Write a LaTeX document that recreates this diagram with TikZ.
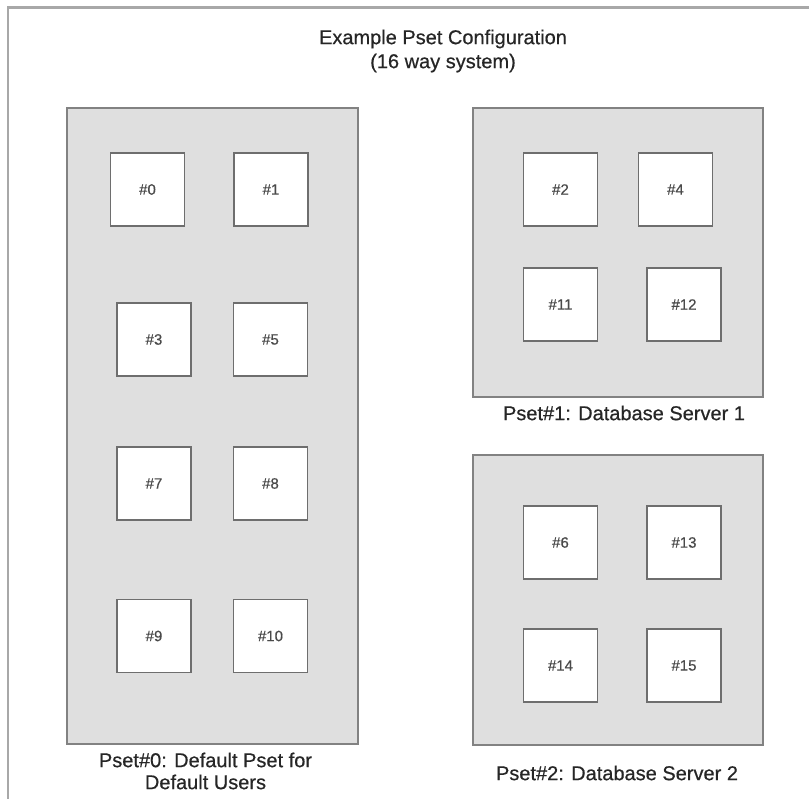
\documentclass[tikz,border=0pt]{standalone}
\usepackage{fontspec}
\setmainfont{Liberation Sans}
\newfontfamily\hvfont[FakeBold=0.5]{Liberation Sans}
\definecolor{framegray}{HTML}{A8A8A8}
\definecolor{psetfill}{HTML}{DFDFDF}
\definecolor{psetline}{HTML}{828282}
\definecolor{cpuline}{HTML}{6E6E6E}
\definecolor{txt}{HTML}{262626}
\definecolor{numtxt}{HTML}{4A4A4A}
\begin{document}
\begin{tikzpicture}[x=1pt,y=-1pt,
  psetbox/.style={draw=psetline, fill=psetfill, line width=1.8pt, rectangle, inner sep=0pt},
  cpubox/.style={draw=cpuline, fill=white, line width=1.6pt, rectangle, inner sep=0pt,
    minimum width=74pt, minimum height=73pt, text=numtxt, font=\hvfont\fontsize{15}{18}\selectfont},
  lbl/.style={text=txt, align=center, inner sep=0pt, font=\hvfont\fontsize{20}{22}\selectfont}]
\useasboundingbox (0,0) rectangle (809,799);
\fill[white] (0,0) rectangle (809,799);
% outer frame
\coordinate (fTR) at (809,7.5);
\coordinate (fTL) at (8,7.5);
\coordinate (fBL) at (8,799);
\draw[framegray, line width=2.2pt] (fTR) -- (fTL) -- (fBL);
% title
\node[lbl, font=\hvfont\fontsize{20}{24}\selectfont] (title) at (443,51) {Example Pset Configuration\\(16 way system)};
% pset boxes
\node[psetbox, minimum width=291pt, minimum height=636pt] (p0) at (212.5,426) {};
\node[psetbox, minimum width=290pt, minimum height=289pt] (p1) at (618,252.5) {};
\node[psetbox, minimum width=290pt, minimum height=290pt] (p2) at (618,600) {};
% cpus pset 0
\node[cpubox] (c0) at (147.5,189.5) {\#0};
\node[cpubox] (c1) at (271,189.5) {\#1};
\node[cpubox] (c3) at (154,339.5) {\#3};
\node[cpubox] (c5) at (270.5,339.5) {\#5};
\node[cpubox] (c7) at (154,483.5) {\#7};
\node[cpubox] (c8) at (270.5,483.5) {\#8};
\node[cpubox] (c9) at (154,636) {\#9};
\node[cpubox] (c10) at (270.5,636) {\#10};
% cpus pset 1
\node[cpubox] (c2) at (560.5,189.5) {\#2};
\node[cpubox] (c4) at (675.5,189.5) {\#4};
\node[cpubox] (c11) at (560.5,304.5) {\#11};
\node[cpubox] (c12) at (684,304.5) {\#12};
% cpus pset 2
\node[cpubox] (c6) at (560.5,542.5) {\#6};
\node[cpubox] (c13) at (684,542.5) {\#13};
\node[cpubox] (c14) at (560.5,665.5) {\#14};
\node[cpubox] (c15) at (684,665.5) {\#15};
% labels
\node[lbl] (l0) at (205.5,771) {Pset\#0: Default Pset for\\Default Users};
\node[lbl] (l1) at (624,413) {Pset\#1: Database Server 1};
\node[lbl] (l2) at (617,773) {Pset\#2: Database Server 2};
\end{tikzpicture}
\end{document}
